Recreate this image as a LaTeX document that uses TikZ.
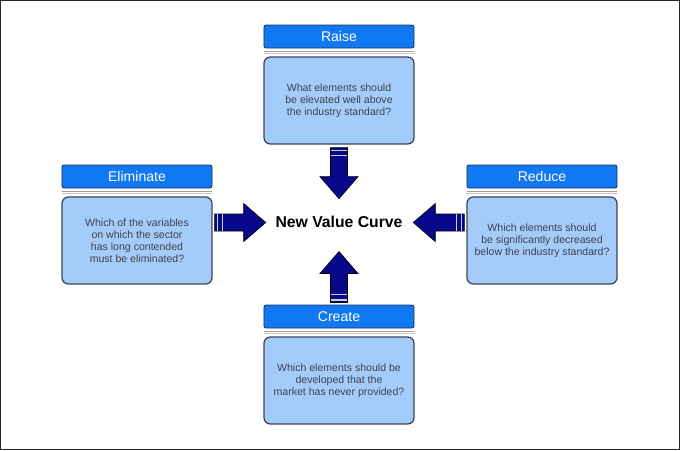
\documentclass[tikz,border=0pt]{standalone}
\usepackage{fontspec}
\setmainfont{Liberation Sans}
\usetikzlibrary{calc}
\definecolor{hdrblue}{RGB}{16,120,240}
\definecolor{hdrline}{RGB}{30,50,95}
\definecolor{qfill}{RGB}{164,204,250}
\definecolor{qline}{RGB}{60,70,88}
\definecolor{qtext}{RGB}{62,66,74}
\definecolor{arrownavy}{RGB}{8,8,140}
\newcommand{\vcarrow}[2]{%
  \begin{scope}[shift={#1}, rotate=#2]
    \filldraw[fill=arrownavy, draw=black, line width=0.5pt]
      (0,-8.5) -- (29,-8.5) -- (29,-19) -- (51,0) -- (29,19) -- (29,8.5) -- (0,8.5) -- cycle;
    \draw[gray!40, line width=1pt] (2.6,-8.2) -- (2.6,8.2) (7.8,-8.2) -- (7.8,8.2);
  \end{scope}}
\newcommand{\sepline}[1]{%
  \draw[gray!75, line width=1.1pt] ($(#1.south west)+(0,3)$) -- ($(#1.south east)+(0,3)$);
  \draw[gray!45, line width=1.1pt] ($(#1.south west)+(0,5.2)$) -- ($(#1.south east)+(0,5.2)$);}
\begin{document}
\begin{tikzpicture}[x=0.025cm, y=-0.025cm]
  \useasboundingbox (0,0) rectangle (680,450);
  \draw[black!85, line width=0.025cm] (0.5,0.5) rectangle (679.5,449.5);
  \begin{scope}[every node/.style={draw=hdrline, fill=hdrblue, line width=0.6pt, rounded corners=1.5pt,
      minimum width=3.75cm, minimum height=0.575cm, inner sep=0pt, text=white,
      font=\fontsize{10}{12}\selectfont}]
    \node (raise) at (339,36.5) {Raise};
    \node (elim) at (137,176.5) {Eliminate};
    \node (reduce) at (542,176.5) {Reduce};
    \node (create) at (339,316.5) {Create};
  \end{scope}
  \begin{scope}[every node/.style={draw=qline, fill=qfill, line width=0.9pt, rounded corners=0.16cm,
      minimum width=3.75cm, minimum height=2.175cm, inner sep=0pt, text=qtext, align=center,
      font=\fontsize{7.5}{8.6}\selectfont}]
    \node (raiseq) at (339,100.5) {What elements should\\be elevated well above\\the industry standard?};
    \node (elimq) at (137,240.5) {Which of the variables\\on which the sector\\has long contended\\must be eliminated?};
    \node (reduceq) at (542,240.5) {Which elements should\\be significantly decreased\\below the industry standard?};
    \node (createq) at (339,380.5) {Which elements should be\\developed that the\\market has never provided?};
  \end{scope}
  \node[font=\fontsize{11.2}{13}\selectfont\bfseries] (nvc) at (339,222) {New Value Curve};
  \sepline{raise}
  \sepline{elim}
  \sepline{reduce}
  \sepline{create}
  \vcarrow{($(raiseq.south)+(0,3)$)}{-90}
  \vcarrow{($(elimq.east)+(2,-18)$)}{0}
  \vcarrow{($(reduceq.west)+(-2,-18)$)}{180}
  \vcarrow{($(create.north)+(0,-2)$)}{90}
\end{tikzpicture}
\end{document}
